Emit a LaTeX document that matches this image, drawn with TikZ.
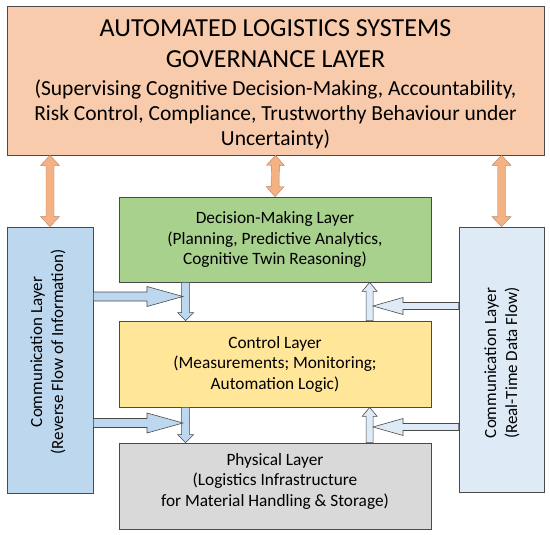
\documentclass[tikz,border=0pt]{standalone}
\usepackage{fontspec}
\setmainfont{Carlito}
\usetikzlibrary{calc}

\definecolor{govfill}{HTML}{F8CBAD}
\definecolor{decfill}{HTML}{A9D18E}
\definecolor{ctlfill}{HTML}{FFE699}
\definecolor{phyfill}{HTML}{D9D9D9}
\definecolor{lcomfill}{HTML}{BDD7EE}
\definecolor{rcomfill}{HTML}{DEEBF7}
\definecolor{boxedge}{HTML}{4A4A4A}
\definecolor{orarrow}{HTML}{F4B183}

\newcommand{\govsub}{\fontsize{21.5}{25}\selectfont}

% block arrow: style, from, to, half shaft, half head, head length
\newcommand{\blockarrow}[6]{%
  \coordinate (hb) at ($(#3)!#6!(#2)$);
  \filldraw[#1] ($(#2)!#4!90:(#3)$) -- ($(hb)!#4!90:(#3)$) -- ($(hb)!#5!90:(#3)$)
    -- (#3) -- ($(hb)!#5!-90:(#3)$) -- ($(hb)!#4!-90:(#3)$) -- ($(#2)!#4!-90:(#3)$) -- cycle;
}
% the same with a head at both ends
\newcommand{\dblarrow}[6]{%
  \coordinate (ha) at ($(#2)!#6!(#3)$);
  \coordinate (hb) at ($(#3)!#6!(#2)$);
  \filldraw[#1] (#2) -- ($(ha)!#5!90:(#3)$) -- ($(ha)!#4!90:(#3)$) -- ($(hb)!#4!90:(#3)$)
    -- ($(hb)!#5!90:(#3)$) -- (#3) -- ($(hb)!#5!-90:(#3)$) -- ($(hb)!#4!-90:(#3)$)
    -- ($(ha)!#4!-90:(#3)$) -- ($(ha)!#5!-90:(#3)$) -- cycle;
}

\tikzset{
  layer/.style={draw=boxedge, line width=0.7pt, align=center, inner sep=0pt},
  laytext/.style={align=center, font=\fontsize{17.3}{20.5}\selectfont},
  comtext/.style={align=center, rotate=90, font=\fontsize{17}{21}\selectfont},
  govarrow/.style={fill=orarrow, draw=orarrow!75!black, line width=0.4pt},
  leftarrow/.style={fill=lcomfill, draw=boxedge, line width=0.6pt},
  rightarrow/.style={fill=rcomfill, draw=boxedge, line width=0.6pt},
}

\begin{document}
\begin{tikzpicture}[x=1pt, y=-1pt]
  \useasboundingbox (0,0) rectangle (550,535);

  % layers
  \node[layer, fill=govfill, minimum width=537pt, minimum height=149pt] (gov) at (275.5,80.5) {};
  \node[align=center, font=\fontsize{26}{25}\selectfont] (govtext) at (275.5,84)
    {AUTOMATED LOGISTICS SYSTEMS\\[6pt]
     GOVERNANCE LAYER\\[3pt]
     \govsub (Supervising Cognitive Decision-Making, Accountability,\\
     \govsub Risk Control, Compliance, Trustworthy Behaviour under\\
     \govsub Uncertainty)};

  \node[layer, fill=decfill, minimum width=312pt, minimum height=85pt] (dec) at (275,239.5) {};
  \node[laytext] (dectext) at (dec.center)
    {Decision-Making Layer\\(Planning, Predictive Analytics,\\Cognitive Twin Reasoning)};

  \node[layer, fill=ctlfill, minimum width=312pt, minimum height=86pt] (ctl) at (275,364) {};
  \node[laytext] (ctltext) at (ctl.center)
    {Control Layer\\(Measurements; Monitoring;\\Automation Logic)};

  \node[layer, fill=phyfill, minimum width=312pt, minimum height=86pt] (phy) at (275,486) {};
  \node[laytext] (phytext) at ($(phy.center)+(0,-5)$)
    {Physical Layer\\(Logistics Infrastructure\\for Material Handling \& Storage)};

  \node[layer, fill=lcomfill, minimum width=86pt, minimum height=266pt] (lcom) at (50,360) {};
  \node[comtext] (lcomtext) at (48,352)
    {Communication Layer\\(Reverse Flow of Information)};

  \node[layer, fill=rcomfill, minimum width=85pt, minimum height=265pt] (rcom) at (501.5,359.5) {};
  \node[comtext] (rcomtext) at (502,363)
    {Communication Layer\\(Real-Time Data Flow)};

  % governance links
  \coordinate (govl) at (gov.south -| lcom.north);
  \coordinate (govr) at (gov.south -| rcom.north);
  \dblarrow{govarrow}{govl}{lcom.north}{4pt}{9.5pt}{10pt}
  \dblarrow{govarrow}{gov.south}{dec.north}{4pt}{9pt}{10pt}
  \dblarrow{govarrow}{govr}{rcom.north}{4pt}{9.5pt}{10pt}

  % downward flow (left side)
  \coordinate (dn1) at ($(dec.south west)+(67,0)$);
  \coordinate (dn2) at ($(ctl.south west)+(67,0)$);
  \blockarrow{leftarrow}{dn1}{dn1 |- ctl.north}{4pt}{8pt}{8pt}
  \blockarrow{leftarrow}{dn2}{dn2 |- phy.north}{4pt}{8pt}{8pt}
  \coordinate (lt1) at (183,296.5);
  \coordinate (lt2) at (183,423);
  \blockarrow{leftarrow}{lcom.east |- lt1}{lt1}{4.5pt}{10pt}{36pt}
  \blockarrow{leftarrow}{lcom.east |- lt2}{lt2}{4.5pt}{10pt}{36pt}

  % upward flow (right side)
  \coordinate (up1) at ($(ctl.north west)+(251,0)$);
  \coordinate (up2) at ($(phy.north west)+(251,0)$);
  \blockarrow{rightarrow}{up1}{up1 |- dec.south}{3.5pt}{7.5pt}{9pt}
  \blockarrow{rightarrow}{up2}{up2 |- ctl.south}{3.5pt}{7.5pt}{9pt}
  \coordinate (rt1) at (373,306);
  \coordinate (rt2) at (373,427);
  \blockarrow{rightarrow}{rcom.west |- rt1}{rt1}{3.5pt}{8.5pt}{30pt}
  \blockarrow{rightarrow}{rcom.west |- rt2}{rt2}{3.5pt}{8.5pt}{30pt}
\end{tikzpicture}
\end{document}
